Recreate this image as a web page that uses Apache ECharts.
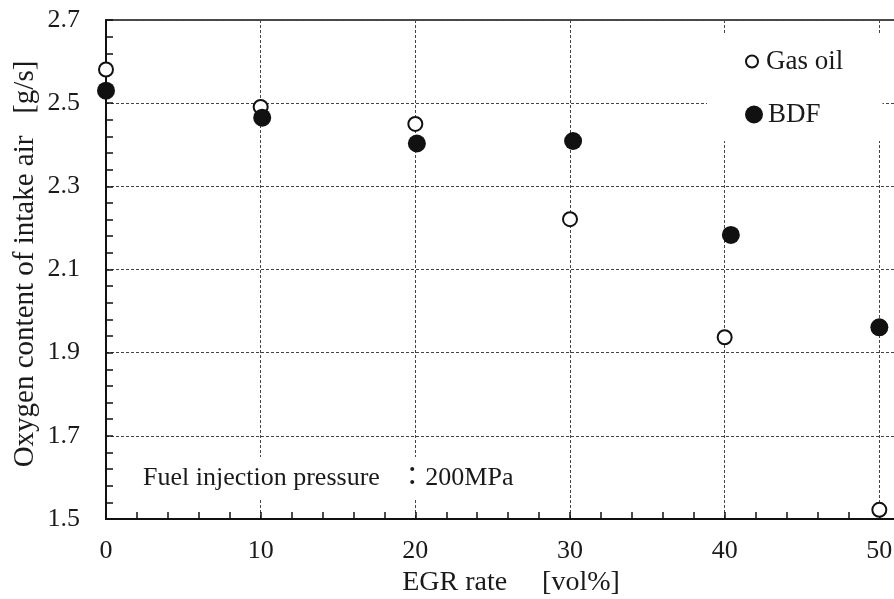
<!DOCTYPE html>
<html>
<head>
<meta charset="utf-8">
<script src="https://cdn.jsdelivr.net/npm/echarts@6/dist/echarts.min.js"></script>
<style>
html,body{margin:0;padding:0;background:#fff;}
#chart{width:894px;height:599px;}
</style>
</head>
<body>
<div id="chart"></div>
<script>
// ---- data ----
const gasOilX = [0, 10, 20, 30, 40, 50];
const gasOilY = [2.581, 2.491, 2.450, 2.221, 1.937, 1.522];
const bdfX = [0, 10.1, 20.1, 30.2, 40.4, 50];
const bdfY = [2.530, 2.465, 2.403, 2.409, 2.183, 1.961];
const seriesNames = ['Gas oil', 'BDF'];
const xTitle = 'EGR rate     [vol%]';
const yTitle = 'Oxygen content of intake air   [g/s]';
const note = 'Fuel injection pressure   \uFF1A200MPa';

const SERIF = "'Liberation Serif', 'Times New Roman', 'Noto Sans CJK JP', serif";
const TXT = '#1a1a1a';

const pairs = (xs, ys) => xs.map((x, i) => [x, ys[i]]);

const chart = echarts.init(document.getElementById('chart'), null, {renderer: 'canvas'});
chart.setOption({
  animation: false,
  backgroundColor: '#fff',
  grid: {
    left: 106, top: 20, width: 928, height: 499,
    outerBoundsMode: 'none', containLabel: false,
    show: true, borderColor: '#111', borderWidth: 1.5, backgroundColor: 'transparent'
  },
  xAxis: {
    type: 'value', min: 0, max: 60, interval: 10,
    axisLine: {show: true, onZero: false, lineStyle: {color: '#111', width: 2}},
    axisTick: {show: true, inside: true, length: 7, lineStyle: {color: '#111', width: 1.5}},
    minorTick: {show: true, splitNumber: 5, length: 7, lineStyle: {color: '#111', width: 1.5}},
    axisLabel: {margin: 19, fontSize: 26, fontFamily: SERIF, color: TXT},
    splitLine: {show: true, lineStyle: {color: '#444', width: 1, type: [3, 2]}}
  },
  yAxis: {
    type: 'value', min: 1.5, max: 2.7, interval: 0.2,
    axisLine: {show: true, onZero: false, lineStyle: {color: '#111', width: 2}},
    axisTick: {show: true, inside: true, length: 7, lineStyle: {color: '#111', width: 1.5}},
    minorTick: {show: true, splitNumber: 5, length: 7, lineStyle: {color: '#111', width: 1.5}},
    axisLabel: {margin: 26, fontSize: 26, fontFamily: SERIF, color: TXT,
      formatter: v => v.toFixed(1)},
    splitLine: {show: true, lineStyle: {color: '#444', width: 1, type: [3, 2]}}
  },
  legend: [
    {
      data: [seriesNames[0]], orient: 'vertical', left: 707, top: 35,
      padding: [13, 42, 13, 38], backgroundColor: '#fff',
      itemWidth: 12, itemHeight: 12, selectedMode: false,
      textStyle: {fontSize: 27, lineHeight: 27, fontFamily: SERIF, color: TXT, padding: [0, 0, 0, 3]}
    },
    {
      data: [seriesNames[1]], orient: 'vertical', left: 707, top: 88,
      padding: [13, 62, 13, 38], backgroundColor: '#fff',
      itemWidth: 18, itemHeight: 18, selectedMode: false,
      textStyle: {fontSize: 27, lineHeight: 27, fontFamily: SERIF, color: TXT}
    }
  ],
  title: {
    text: note, left: 135, top: 457, padding: [8, 8],
    backgroundColor: '#fff',
    textStyle: {fontSize: 26, lineHeight: 26, fontWeight: 'normal', fontFamily: SERIF, color: TXT}
  },
  graphic: [
    {type: 'text', x: 511, y: 583, silent: true,
      style: {text: xTitle, font: "28px " + SERIF, fill: TXT, align: 'center', verticalAlign: 'middle'}},
    {type: 'text', x: 25, y: 264, rotation: Math.PI / 2, silent: true,
      style: {text: yTitle, font: "29px " + SERIF, fill: TXT, align: 'center', verticalAlign: 'middle'}}
  ],
  series: [
    {
      name: seriesNames[0], type: 'scatter', data: pairs(gasOilX, gasOilY),
      symbol: 'circle', symbolSize: 14, z: 3,
      itemStyle: {color: '#fff', borderColor: '#111', borderWidth: 2, opacity: 1}
    },
    {
      name: seriesNames[1], type: 'scatter', data: pairs(bdfX, bdfY),
      symbol: 'circle', symbolSize: 18, z: 4,
      itemStyle: {color: '#111', borderWidth: 0, opacity: 1}
    }
  ]
});
</script>
</body>
</html>
